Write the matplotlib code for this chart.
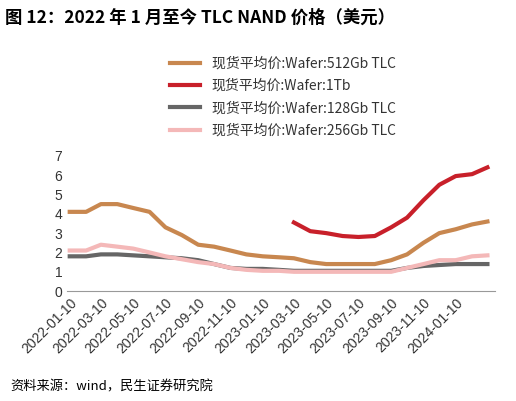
import matplotlib
matplotlib.use("Agg")
import matplotlib.pyplot as plt
import matplotlib.dates as mdates
import pandas as pd

plt.rcParams['font.family'] = ['Noto Sans CJK SC', 'DejaVu Sans']

dates = pd.date_range("2022-01-01", "2024-03-01", freq="MS") + pd.Timedelta(days=9)
tlc512 = [4.1,4.1,4.5,4.5,4.3,4.1,3.3,2.9,2.4,2.3,2.1,1.9,1.8,1.75,1.7,1.5,1.4,1.4,1.4,1.4,1.6,1.9,2.5,3.0,3.2,3.45,3.6]
tb1 = [None]*14 + [3.55,3.1,3.0,2.85,2.8,2.85,3.3,3.8,4.7,5.5,5.95,6.05,6.4]
tlc128 = [1.8,1.8,1.9,1.9,1.85,1.8,1.75,1.7,1.6,1.4,1.2,1.15,1.15,1.1,1.05,1.05,1.05,1.05,1.05,1.05,1.05,1.2,1.3,1.35,1.4,1.4,1.4]
tlc256 = [2.1,2.1,2.4,2.3,2.2,2.0,1.8,1.65,1.5,1.4,1.2,1.1,1.05,1.05,1.0,1.0,1.0,1.0,1.0,1.0,1.0,1.2,1.4,1.6,1.6,1.8,1.85]
labels = ["现货平均价:Wafer:512Gb TLC","现货平均价:Wafer:1Tb","现货平均价:Wafer:128Gb TLC","现货平均价:Wafer:256Gb TLC"]
colors = ["#C8874F","#C8202A","#666666","#F4B8B8"]

fig = plt.figure(figsize=(5.16,4.01), dpi=100)
ax = fig.add_axes([0.13,0.274,0.83,0.352])
lines = []
for s,l,c in zip([tlc512,tb1,tlc128,tlc256],labels,colors):
    ser = pd.Series(s, index=dates, dtype=float)
    ln, = ax.plot(ser.index, ser.values, color=c, lw=3, label=l)
    lines.append(ln)
ax.set_ylim(0,7.3)
ax.set_yticks(range(8))
ax.set_xlim(pd.Timestamp("2022-01-05"), pd.Timestamp("2024-03-25"))
ax.set_xticks(pd.date_range("2022-01-01","2024-01-01",freq="2MS")+pd.Timedelta(days=9))
ax.xaxis.set_major_formatter(mdates.DateFormatter("%Y-%m-%d"))
plt.setp(ax.get_xticklabels(), rotation=45, ha="right", rotation_mode="anchor", family="Liberation Sans")
plt.setp(ax.get_yticklabels(), family="Liberation Sans")
ax.tick_params(labelsize=10, colors="#333333", length=0)
for sp in ["top","right","left"]:
    ax.spines[sp].set_visible(False)
ax.spines["bottom"].set_color("#999999")
fig.legend(handles=lines, loc="upper left", bbox_to_anchor=(0.305,0.89), frameon=False,
           fontsize=10, handlelength=2.2, labelspacing=0.6, labelcolor="#333333")
fig.text(0.01,0.955,"图 12：2022 年 1 月至今 TLC NAND 价格（美元）", fontsize=12.5, fontweight="bold", va="center")
fig.text(0.02,0.035,"资料来源：wind，民生证券研究院", fontsize=9.5, va="center")
fig.savefig("out.png", dpi=100)
